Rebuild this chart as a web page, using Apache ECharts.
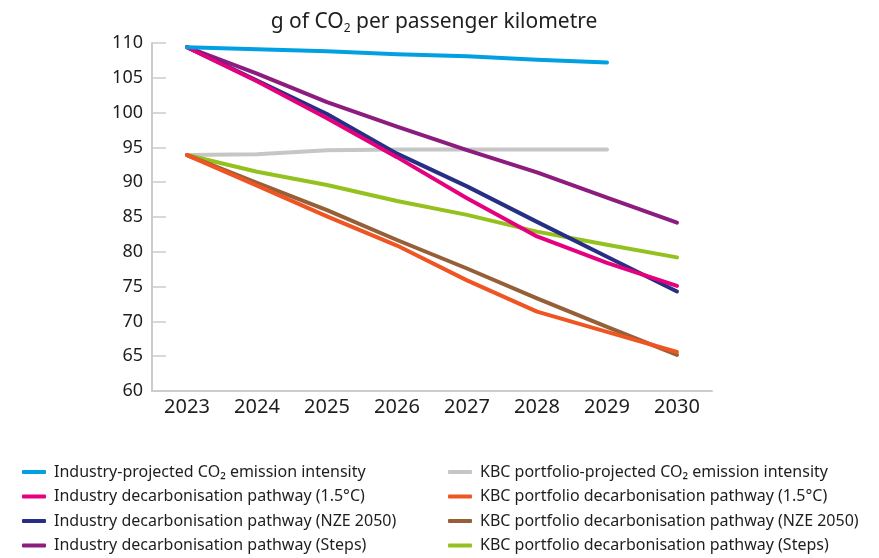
<!DOCTYPE html>
<html>
<head>
<meta charset="utf-8">
<script src="https://cdn.jsdelivr.net/npm/echarts@6/dist/echarts.min.js"></script>
<style>
  html, body { margin: 0; padding: 0; background: #fff; }
  #chart { width: 879px; height: 558px; }
</style>
</head>
<body>
<div id="chart"></div>
<script>
// Years on the horizontal axis
const years = ['2023', '2024', '2025', '2026', '2027', '2028', '2029', '2030'];

// Emission intensity, g CO2 per passenger km
const industryProjected = [109.4, 109.1, 108.8, 108.4, 108.1, 107.6, 107.2];
const industry15 = [109.4, 104.5, 99.2, 93.6, 87.7, 82.2, 78.4, 75.1];
const industryNze = [109.4, 104.6, 99.8, 94.1, 89.4, 84.3, 79.3, 74.3];
const industrySteps = [109.4, 105.6, 101.5, 98.0, 94.6, 91.4, 87.8, 84.2];
const kbcProjected = [93.9, 94.0, 94.6, 94.7, 94.7, 94.7, 94.7];
const kbc15 = [93.9, 89.5, 85.1, 80.9, 75.9, 71.4, 68.5, 65.6];
const kbcNze = [93.9, 89.9, 86.0, 81.7, 77.6, 73.3, 69.2, 65.2];
const kbcSteps = [93.9, 91.5, 89.6, 87.3, 85.3, 82.9, 81.0, 79.2];

// Axis range
const yMin = 60, yMax = 110, yStep = 5;

const FONT = '"Noto Sans", "Open Sans", sans-serif';

const seriesDefs = [
  { name: 'KBC portfolio-projected CO\u2082 emission intensity', data: kbcProjected, color: '#c6c6c6' },
  { name: 'KBC portfolio decarbonisation pathway (Steps)', data: kbcSteps, color: '#95c11f' },
  { name: 'KBC portfolio decarbonisation pathway (NZE 2050)', data: kbcNze, color: '#955f38' },
  { name: 'KBC portfolio decarbonisation pathway (1.5°C)', data: kbc15, color: '#ef5523' },
  { name: 'Industry decarbonisation pathway (Steps)', data: industrySteps, color: '#8c1d7f' },
  { name: 'Industry decarbonisation pathway (NZE 2050)', data: industryNze, color: '#262f84' },
  { name: 'Industry decarbonisation pathway (1.5°C)', data: industry15, color: '#e5007d' },
  { name: 'Industry-projected CO\u2082 emission intensity', data: industryProjected, color: '#00a0e3' }
];

const legendLeft = [
  'Industry-projected CO\u2082 emission intensity',
  'Industry decarbonisation pathway (1.5°C)',
  'Industry decarbonisation pathway (NZE 2050)',
  'Industry decarbonisation pathway (Steps)'
];
const legendRight = [
  'KBC portfolio-projected CO\u2082 emission intensity',
  'KBC portfolio decarbonisation pathway (1.5°C)',
  'KBC portfolio decarbonisation pathway (NZE 2050)',
  'KBC portfolio decarbonisation pathway (Steps)'
];

const axisGrey = '#cccccc';
const textColor = '#1e1e1e';

const legendBase = {
  orient: 'vertical',
  top: 464,
  padding: 0,
  itemWidth: 24,
  itemHeight: 4,
  itemGap: 8.5,
  icon: 'roundRect',
  selectedMode: false,
  textStyle: { fontFamily: FONT, fontSize: 16, color: textColor, padding: [0, 0, 0, 3] }
};

const chart = echarts.init(document.getElementById('chart'), null, { renderer: 'canvas' });
chart.setOption({
  animation: false,
  backgroundColor: '#fff',
  title: {
    text: '{a|g of CO}{s|2}{a| per passenger kilometre}',
    left: 429,
    top: 5,
    textAlign: 'center',
    textStyle: {
      fontWeight: 'normal',
      rich: {
        a: { fontFamily: FONT, fontSize: 21, fontWeight: 'normal', color: textColor },
        s: { fontFamily: FONT, fontSize: 12, fontWeight: 'normal', color: textColor, verticalAlign: 'bottom', padding: [13, 0, 0, 0] }
      }
    }
  },
  legend: [
    Object.assign({}, legendBase, { left: 22, data: legendLeft }),
    Object.assign({}, legendBase, { left: 448, data: legendRight })
  ],
  grid: { left: 152, right: 167, top: 43, bottom: 167, containLabel: false },
  xAxis: {
    type: 'category',
    data: years,
    boundaryGap: true,
    axisLine: { lineStyle: { color: axisGrey, width: 2 } },
    axisTick: { inside: true, length: 10, lineStyle: { color: axisGrey, width: 1.5 } },
    axisLabel: { fontFamily: FONT, fontSize: 20, color: textColor, margin: 6 },
    splitLine: { show: false }
  },
  yAxis: {
    type: 'value',
    min: yMin,
    max: yMax,
    interval: yStep,
    axisLine: { show: true, lineStyle: { color: axisGrey, width: 2 } },
    axisTick: { show: true, inside: true, length: 14, lineStyle: { color: axisGrey, width: 1.5 } },
    axisLabel: { fontFamily: FONT, fontSize: 18, color: textColor, margin: 9 },
    splitLine: { show: false }
  },
  series: seriesDefs.map(s => ({
    name: s.name,
    type: 'line',
    data: s.data,
    showSymbol: false,
    symbol: 'none',
    smooth: false,
    color: s.color,
    lineStyle: { color: s.color, width: 4, cap: 'round', join: 'round' }
  }))
});
</script>
</body>
</html>
